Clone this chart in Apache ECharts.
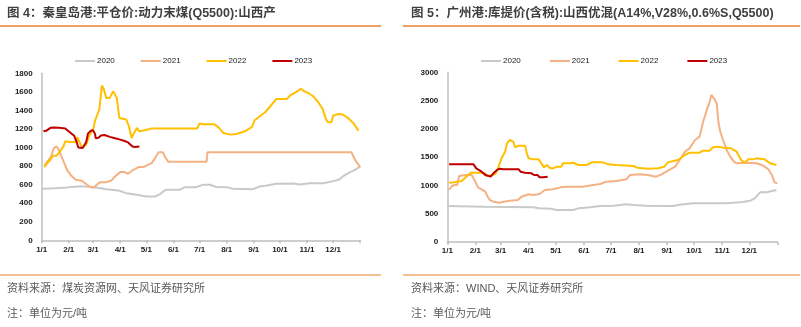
<!DOCTYPE html>
<html>
<head>
<meta charset="utf-8">
<script src="https://cdn.jsdelivr.net/npm/echarts@6/dist/echarts.min.js"></script>
<style>html,body{margin:0;padding:0;background:#fff;}#c{width:801px;height:327px;}</style>
</head>
<body>
<div id="c"></div>
<script>
// Month tick labels (day-of-year positions)
const monthLabels = ['1/1','2/1','3/1','4/1','5/1','6/1','7/1','8/1','9/1','10/1','11/1','12/1'];
const monthDays = [0,31,59,90,120,151,181,212,243,273,304,334];
const seriesNames = ['2020','2021','2022','2023'];

// Left chart: 秦皇岛港 平仓价 (day of year, value)
const qhdDays2020 = [0,15,29,44,59,74,88,97,109,120,130,136,142,158,164,177,185,193,200,212,219,242,250,258,269,288,296,307,323,334,341,345,353,359,365];
const qhdVals2020 = [555,560,569,582,575,551,537,508,490,472,472,500,544,544,573,573,598,598,575,573,555,551,580,591,609,613,602,616,616,638,655,688,732,760,796];
const qhdDays2021 = [3,8,11,14,17,19,22,25,29,34,39,46,52,57,60,63,67,74,80,84,90,95,99,105,111,116,120,126,130,134,139,141,145,189,190,355,359,365];
const qhdVals2021 = [804,868,912,995,1013,984,922,850,760,695,652,641,598,569,569,598,627,627,645,688,735,735,717,760,789,789,804,832,886,948,948,905,847,847,948,948,868,789];
const qhdDays2022 = [3,5,10,13,17,21,25,27,32,40,41,43,46,48,51,55,59,61,63,66,69,71,74,78,82,84,86,89,91,97,100,103,105,109,112,114,118,120,126,178,181,185,198,203,208,216,223,233,241,244,250,256,262,269,281,285,292,297,302,305,311,317,322,326,328,332,334,340,345,351,357,363];
const qhdVals2022 = [789,815,868,912,912,958,1012,1067,1060,1060,1113,1067,1005,995,1030,1139,1193,1283,1337,1409,1668,1632,1535,1535,1607,1600,1535,1319,1301,1301,1229,1103,1140,1211,1175,1175,1186,1200,1205,1205,1258,1250,1250,1215,1157,1139,1146,1175,1222,1294,1337,1380,1445,1524,1524,1564,1600,1632,1600,1590,1553,1488,1416,1301,1272,1272,1344,1362,1355,1319,1265,1182];
const qhdDays2023 = [2,5,10,14,20,27,29,34,37,40,42,44,47,49,51,53,56,59,61,62,65,68,72,78,84,90,95,99,101,104,107,109,112];
const qhdVals2023 = [1175,1180,1212,1215,1212,1205,1195,1150,1130,1060,1000,990,995,1010,1060,1150,1180,1185,1150,1100,1105,1130,1135,1115,1100,1085,1070,1055,1040,1010,1005,1015,1010];

// Right chart: 广州港 库提价 (day of year, value)
const gzDays2020 = [0,40,95,102,115,121,139,145,158,169,184,198,206,220,243,250,257,272,309,327,335,340,346,353,364];
const gzVals2020 = [636,625,613,595,589,566,566,595,613,636,640,666,654,642,636,636,660,684,684,707,731,772,878,878,919];
const gzDays2021 = [2,5,8,11,13,20,27,29,31,34,38,42,44,47,51,58,62,69,78,82,90,95,102,108,117,125,132,150,158,169,176,187,198,202,213,222,231,237,244,252,257,263,268,274,279,283,287,290,292,295,298,300,302,305,309,313,317,320,331,342,348,351,355,359,362,365];
const gzVals2021 = [919,990,1008,1008,1167,1184,1184,1155,1067,966,931,890,819,742,713,695,713,731,742,801,843,831,849,919,931,966,978,978,1000,1025,1067,1078,1108,1184,1196,1184,1155,1196,1261,1332,1450,1597,1656,1803,1862,2127,2334,2463,2599,2540,2451,2098,1950,1803,1626,1508,1420,1391,1402,1391,1361,1332,1285,1184,1055,1037];
const gzDays2022 = [2,8,16,21,26,36,42,44,49,53,56,60,64,66,69,73,75,79,86,88,90,95,101,104,107,110,114,117,121,126,128,136,139,145,154,160,172,178,187,206,210,222,233,240,244,255,263,268,279,283,290,294,300,305,314,320,325,329,333,338,342,351,357,364];
const gzVals2022 = [1049,1055,1078,1155,1226,1226,1214,1167,1184,1200,1302,1479,1597,1744,1803,1774,1674,1703,1703,1567,1479,1461,1461,1391,1320,1361,1302,1302,1332,1332,1391,1391,1402,1361,1361,1408,1408,1373,1361,1344,1314,1296,1305,1332,1408,1450,1538,1579,1579,1615,1615,1674,1685,1668,1656,1597,1450,1402,1461,1461,1479,1461,1391,1361];
const gzDays2023 = [2,29,32,38,42,44,48,51,55,58,62,79,81,86,93,96,100,102,106,108,111];
const gzVals2023 = [1373,1373,1302,1243,1184,1155,1155,1214,1273,1296,1285,1285,1243,1226,1214,1184,1184,1143,1143,1167,1155];

const colors = ['#C9C9C9','#F4B183','#FFC000','#C00000'];
const zip = (d, v) => d.map((x, i) => [x, v[i]]);

const chart = echarts.init(document.getElementById('c'));
const axisFont = {fontSize: 8, fontWeight: 'bold', color: '#1a1a1a', fontFamily: 'Liberation Sans, Arial, sans-serif'};

function xAxis(gi) {
  return {
    type: 'value', gridIndex: gi, min: 0, max: 365,
    axisLine: {show: true, lineStyle: {color: '#BFBFBF', width: 1.5}},
    axisTick: {show: true, length: 3, lineStyle: {color: '#BFBFBF', width: 1.5}, customValues: monthDays.concat([365])},
    axisLabel: Object.assign({margin: 5, customValues: monthDays, formatter: v => monthLabels[monthDays.indexOf(v)] || ''}, axisFont),
    splitLine: {show: false}
  };
}
function yAxis(gi, max, interval) {
  return {
    type: 'value', gridIndex: gi, min: 0, max: max, interval: interval,
    axisLine: {show: true, lineStyle: {color: '#BFBFBF', width: 1.5}},
    axisTick: {show: false},
    axisLabel: Object.assign({margin: 9, formatter: v => String(v)}, axisFont),
    splitLine: {show: false}
  };
}
function mkSeries(gi, daysArr, valsArr) {
  return seriesNames.map((n, i) => ({
    name: n, type: 'line', xAxisIndex: gi, yAxisIndex: gi,
    data: zip(daysArr[i], valsArr[i]),
    showSymbol: false, symbol: 'none', smooth: false, animation: false,
    lineStyle: {width: 2, color: colors[i]}, itemStyle: {color: colors[i]}, z: i + 2
  }));
}
function legend(left, gap) {
  return {
    data: seriesNames, left: left, top: 52, orient: 'horizontal',
    icon: 'rect', itemWidth: 20, itemHeight: 2, itemGap: gap,
    textStyle: {fontSize: 8, color: '#1a1a1a', fontFamily: 'Liberation Sans, Arial, sans-serif', padding: [0,0,0,-3]}
  };
}
const titleFont = 'bold 12.5px "Liberation Sans", "Noto Sans CJK SC", sans-serif';
const srcFont = '11px "Liberation Sans", "Noto Sans CJK SC", sans-serif';

chart.setOption({
  animation: false,
  color: colors,
  grid: [
    {left: 41.7, top: 73.3, width: 318.5, height: 167, containLabel: false},
    {left: 447.3, top: 72.3, width: 330, height: 169.7, containLabel: false}
  ],
  legend: [legend(70, 26), legend(476, 29)],
  xAxis: [xAxis(0), xAxis(1)],
  yAxis: [yAxis(0, 1800, 200), yAxis(1, 3000, 500)],
  series: mkSeries(0, [qhdDays2020, qhdDays2021, qhdDays2022, qhdDays2023], [qhdVals2020, qhdVals2021, qhdVals2022, qhdVals2023])
    .concat(mkSeries(1, [gzDays2020, gzDays2021, gzDays2022, gzDays2023], [gzVals2020, gzVals2021, gzVals2022, gzVals2023])),
  graphic: [
    {type: 'text', left: 7, top: 7, style: {text: '图 4：秦皇岛港:平仓价:动力末煤(Q5500):山西产', font: titleFont, fill: '#3f3f3f'}},
    {type: 'text', left: 411, top: 7, style: {text: '图 5：广州港:库提价(含税):山西优混(A14%,V28%,0.6%S,Q5500)', font: titleFont, fill: '#3f3f3f'}},
    {type: 'line', shape: {x1: 0, y1: 26, x2: 381, y2: 26}, style: {stroke: '#E8822E', lineWidth: 1.5}},
    {type: 'line', shape: {x1: 403, y1: 26, x2: 800, y2: 26}, style: {stroke: '#E8822E', lineWidth: 1.5}},
    {type: 'line', shape: {x1: 0, y1: 275, x2: 381, y2: 275}, style: {stroke: '#E8822E', lineWidth: 1}},
    {type: 'line', shape: {x1: 403, y1: 275, x2: 800, y2: 275}, style: {stroke: '#E8822E', lineWidth: 1}},
    {type: 'text', left: 7, top: 283, style: {text: '资料来源：煤炭资源网、天风证券研究所', font: srcFont, fill: '#595959'}},
    {type: 'text', left: 7, top: 308, style: {text: '注：单位为元/吨', font: srcFont, fill: '#595959'}},
    {type: 'text', left: 411, top: 283, style: {text: '资料来源：WIND、天风证券研究所', font: srcFont, fill: '#595959'}},
    {type: 'text', left: 411, top: 308, style: {text: '注：单位为元/吨', font: srcFont, fill: '#595959'}}
  ]
});
</script>
</body>
</html>
